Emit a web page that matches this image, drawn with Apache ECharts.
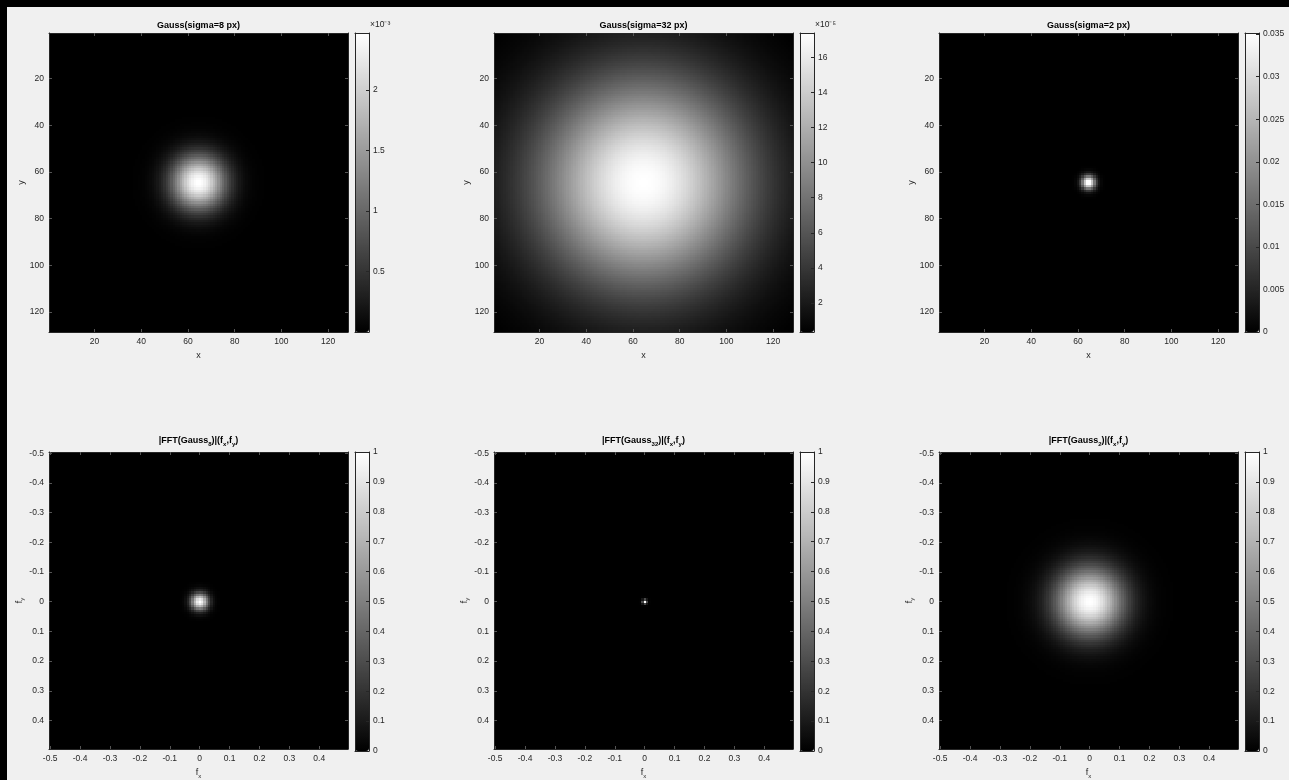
<!DOCTYPE html>
<html>
<head>
<meta charset="utf-8">
<script src="https://cdn.jsdelivr.net/npm/echarts@6/dist/echarts.min.js"></script>
<style>
html,body{margin:0;padding:0;background:#000;width:1289px;height:780px;overflow:hidden}
#c{position:absolute;left:7px;top:7px;width:1282px;height:773px}
</style>
</head>
<body>
<div id="c"></div>
<script>
// ---------------- data ----------------
const IMG_N = 128;                              // image size in pixels
const sigmaPx = [8, 32, 2];                     // Gaussian sigma per column (from titles)
const peakValues = [2.48e-3, 1.74e-4, 0.0374];  // colorbar maxima
const spatialTitles = ['Gauss(sigma=8 px)', 'Gauss(sigma=32 px)', 'Gauss(sigma=2 px)'];
const fftTitles = ['|FFT(Gauss{s|8})|(f{s|x},f{s|y})', '|FFT(Gauss{s|32})|(f{s|x},f{s|y})', '|FFT(Gauss{s|2})|(f{s|x},f{s|y})'];
const spatialTicks = [20, 40, 60, 80, 100, 120];
const spatialTickLabels = ['20', '40', '60', '80', '100', '120'];
const freqTicks = [-0.5, -0.4, -0.3, -0.2, -0.1, 0, 0.1, 0.2, 0.3, 0.4];
const freqTickLabels = ['-0.5', '-0.4', '-0.3', '-0.2', '-0.1', '0', '0.1', '0.2', '0.3', '0.4'];
const cbTicksTop = [
  [0, 0.5e-3, 1e-3, 1.5e-3, 2e-3],
  [2e-5, 4e-5, 6e-5, 8e-5, 10e-5, 12e-5, 14e-5, 16e-5],
  [0, 0.005, 0.01, 0.015, 0.02, 0.025, 0.03, 0.035]
];
const cbTickLabelsTop = [
  ['0', '0.5', '1', '1.5', '2'],
  ['2', '4', '6', '8', '10', '12', '14', '16'],
  ['0', '0.005', '0.01', '0.015', '0.02', '0.025', '0.03', '0.035']
];
const cbExponentTop = ['×10⁻³', '×10⁻⁵', ''];
const cbTicksFFT = [0, 0.1, 0.2, 0.3, 0.4, 0.5, 0.6, 0.7, 0.8, 0.9, 1];
const cbTickLabelsFFT = ['0', '0.1', '0.2', '0.3', '0.4', '0.5', '0.6', '0.7', '0.8', '0.9', '1'];

// ---------------- build image data ----------------
function gaussImage(sigma, peak) {
  const c = (IMG_N + 1) / 2;
  const out = [];
  for (let yi = 1; yi <= IMG_N; yi++) {
    for (let xi = 1; xi <= IMG_N; xi++) {
      const dx = xi - c, dy = yi - c;
      out.push([xi, yi, peak * Math.exp(-(dx * dx + dy * dy) / (2 * sigma * sigma))]);
    }
  }
  return out;
}
function fftImage(sigma) {
  const out = [];
  for (let yi = 0; yi < IMG_N; yi++) {
    const fy = -0.5 + yi / IMG_N;
    for (let xi = 0; xi < IMG_N; xi++) {
      const fx = -0.5 + xi / IMG_N;
      out.push([fx, fy, Math.exp(-2 * Math.PI * Math.PI * sigma * sigma * (fx * fx + fy * fy))]);
    }
  }
  return out;
}

// ---------------- layout ----------------
const OX = 7, OY = 7;
const colLeft = [49, 494, 939].map(v => v - OX);
const rowTop = [33, 452].map(v => v - OY);
const SIZE = 299;
const CB_GAP = 306, CB_W = 14;
const TXT = '#262626';
const FONT = '"Liberation Sans", Arial, Helvetica, sans-serif';

function labelFor(ticks, labels) {
  return function (v) {
    for (let i = 0; i < ticks.length; i++) {
      if (Math.abs(ticks[i] - v) <= 1e-12 + 1e-7 * Math.abs(ticks[i])) return labels[i];
    }
    return '';
  };
}

function makeCellRenderer(step) {
  const h = step / 2;
  return function (params, api) {
    const x = api.value(0), y = api.value(1);
    const a = api.coord([x - h, y - h]);
    const b = api.coord([x + h, y + h]);
    const x0 = Math.round(Math.min(a[0], b[0])), x1 = Math.round(Math.max(a[0], b[0]));
    const y0 = Math.round(Math.min(a[1], b[1])), y1 = Math.round(Math.max(a[1], b[1]));
    return {
      type: 'rect',
      shape: { x: x0, y: y0, width: x1 - x0, height: y1 - y0 },
      style: { fill: api.visual('color') },
      silent: true
    };
  };
}

const grid = [], xAxis = [], yAxis = [], series = [], visualMap = [], graphic = [];
const subRich = {
  b: { fontSize: 9, fontFamily: FONT, color: TXT },
  s: { fontSize: 6, fontFamily: FONT, color: TXT, padding: [6, 0, 0, 0] }
};

for (let row = 0; row < 2; row++) {
  for (let col = 0; col < 3; col++) {
    const isFFT = row === 1;
    const data = isFFT ? fftImage(sigmaPx[col]) : gaussImage(sigmaPx[col], peakValues[col]);
    let vmin = Infinity, vmax = -Infinity;
    for (const d of data) { if (d[2] < vmin) vmin = d[2]; if (d[2] > vmax) vmax = d[2]; }
    if (isFFT) { vmin = 0; vmax = 1; }
    const left = colLeft[col], top = rowTop[row];
    const step = isFFT ? 1 / IMG_N : 1;
    const axMin = isFFT ? -0.5 - step / 2 : 0.5;
    const axMax = isFFT ? 0.5 - step / 2 : IMG_N + 0.5;
    const ticks = isFFT ? freqTicks : spatialTicks;
    const tickLabels = isFFT ? freqTickLabels : spatialTickLabels;

    // image grid
    const gi = grid.length;
    grid.push({ left: left, top: top, width: SIZE, height: SIZE, show: true, backgroundColor: '#000', borderWidth: 0 });
    const xb = xAxis.length;
    xAxis.push({
      type: 'value', gridIndex: gi, position: 'bottom', min: axMin, max: axMax, z: 10,
      name: isFFT ? '{b|f}{s|x}' : 'x', nameLocation: 'middle', nameGap: isFFT ? 18 : 19,
      nameTextStyle: { fontSize: 9, color: TXT, fontFamily: FONT, rich: subRich },
      axisLine: { show: true, onZero: false, lineStyle: { color: TXT, width: 1 } },
      axisTick: { show: true, inside: true, length: 3, customValues: ticks, lineStyle: { color: '#555' } },
      axisLabel: { show: true, customValues: ticks, formatter: labelFor(ticks, tickLabels), fontSize: 8.5, color: TXT, fontFamily: FONT, margin: 5 },
      splitLine: { show: false }
    });
    xAxis.push({
      type: 'value', gridIndex: gi, position: 'top', min: axMin, max: axMax, z: 10,
      axisLine: { show: true, onZero: false, lineStyle: { color: TXT, width: 1 } },
      axisTick: { show: true, inside: true, length: 3, customValues: ticks, lineStyle: { color: '#555' } },
      axisLabel: { show: false }, splitLine: { show: false }
    });
    const yl = yAxis.length;
    yAxis.push({
      type: 'value', gridIndex: gi, position: 'left', min: axMin, max: axMax, inverse: true, z: 10,
      name: isFFT ? '{b|f}{s|y}' : 'y', nameLocation: 'middle', nameGap: isFFT ? 22 : 23, nameRotate: 90,
      nameTextStyle: { fontSize: 9, color: TXT, fontFamily: FONT, rich: subRich },
      axisLine: { show: true, onZero: false, lineStyle: { color: TXT, width: 1 } },
      axisTick: { show: true, inside: true, length: 3, customValues: ticks, lineStyle: { color: '#555' } },
      axisLabel: { show: true, customValues: ticks, formatter: labelFor(ticks, tickLabels), fontSize: 8.5, color: TXT, fontFamily: FONT, margin: 5 },
      splitLine: { show: false }
    });
    yAxis.push({
      type: 'value', gridIndex: gi, position: 'right', min: axMin, max: axMax, inverse: true, z: 10,
      axisLine: { show: true, onZero: false, lineStyle: { color: TXT, width: 1 } },
      axisTick: { show: true, inside: true, length: 3, customValues: ticks, lineStyle: { color: '#555' } },
      axisLabel: { show: false }, splitLine: { show: false }
    });
    const si = series.length;
    series.push({
      type: 'custom', xAxisIndex: xb, yAxisIndex: yl, data: data,
      encode: { x: 0, y: 1 }, renderItem: makeCellRenderer(step),
      progressive: 0, animation: false, silent: true, clip: true, z: 2
    });

    // colorbar
    const cbLeft = left + CB_GAP;
    visualMap.push({
      type: 'continuous', seriesIndex: si, min: vmin, max: vmax, dimension: 2,
      inRange: { color: ['#000000', '#ffffff'] },
      orient: 'vertical', left: cbLeft, top: top, itemWidth: CB_W, itemHeight: SIZE,
      padding: 0, calculable: false, showLabel: false, text: null, hoverLink: false, z: 4
    });
    const cTicks = isFFT ? cbTicksFFT : cbTicksTop[col];
    const cLabels = isFFT ? cbTickLabelsFFT : cbTickLabelsTop[col];
    const cg = grid.length;
    grid.push({ left: cbLeft, top: top, width: CB_W, height: SIZE, show: false });
    xAxis.push({ type: 'value', gridIndex: cg, position: 'bottom', min: 0, max: 1, z: 10,
      axisLine: { show: true, onZero: false, lineStyle: { color: TXT } }, axisTick: { show: false }, axisLabel: { show: false }, splitLine: { show: false } });
    xAxis.push({ type: 'value', gridIndex: cg, position: 'top', min: 0, max: 1, z: 10,
      axisLine: { show: true, onZero: false, lineStyle: { color: TXT } }, axisTick: { show: false }, axisLabel: { show: false }, splitLine: { show: false } });
    yAxis.push({ type: 'value', gridIndex: cg, position: 'right', min: vmin, max: vmax, z: 10,
      axisLine: { show: true, onZero: false, lineStyle: { color: TXT } },
      axisTick: { show: true, inside: true, length: 3, customValues: cTicks, lineStyle: { color: TXT } },
      axisLabel: { show: true, customValues: cTicks, formatter: labelFor(cTicks, cLabels), fontSize: 8.5, color: TXT, fontFamily: FONT, margin: 4 },
      splitLine: { show: false } });
    yAxis.push({ type: 'value', gridIndex: cg, position: 'left', min: vmin, max: vmax, z: 10,
      axisLine: { show: true, onZero: false, lineStyle: { color: TXT } }, axisTick: { show: false }, axisLabel: { show: false }, splitLine: { show: false } });

    // titles
    graphic.push({
      type: 'text', x: left + SIZE / 2, y: row === 0 ? 26 - OY : 441 - OY, z: 100,
      style: {
        text: isFFT ? fftTitles[col] : spatialTitles[col],
        fill: '#000', font: 'bold 9px ' + FONT, align: 'center', verticalAlign: 'middle',
        rich: { s: { fontSize: 6, fontWeight: 'bold', fontFamily: FONT, fill: '#000', padding: [6, 0, 0, 0] } }
      }
    });
    if (!isFFT && cbExponentTop[col]) {
      graphic.push({
        type: 'text', x: cbLeft + 15, y: 25 - OY, z: 100,
        style: { text: cbExponentTop[col], fill: TXT, font: '8.5px ' + FONT, align: 'left', verticalAlign: 'middle' }
      });
    }
  }
}

const chart = echarts.init(document.getElementById('c'), null, { renderer: 'canvas' });
chart.setOption({
  backgroundColor: '#f0f0f0',
  animation: false,
  grid: grid, xAxis: xAxis, yAxis: yAxis, series: series, visualMap: visualMap, graphic: graphic
});
</script>
</body>
</html>
